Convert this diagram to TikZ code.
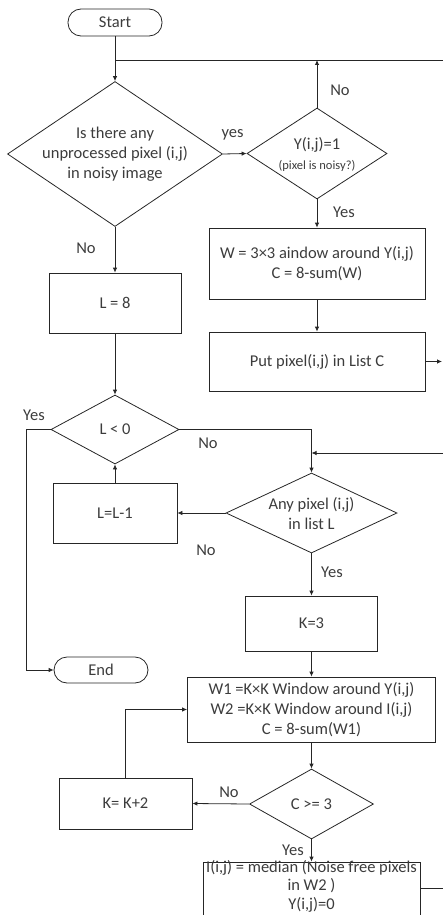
\documentclass[tikz,border=0pt]{standalone}
\usepackage{fontspec}
\setmainfont{Carlito}
\usetikzlibrary{shapes.geometric,arrows.meta}
\definecolor{ln}{HTML}{262626}
\definecolor{tx}{HTML}{3C3C3C}
\begin{document}
\begin{tikzpicture}[x=1pt,y=-1pt,
  every node/.style={font=\fontsize{16.5}{20}\selectfont, text=tx},
  box/.style={draw=ln, line width=0.8pt, rectangle, align=center, inner sep=0pt},
  term/.style={draw=ln, line width=0.8pt, rectangle, rounded corners=13pt, inner sep=0pt},
  dec/.style={draw=ln, line width=0.8pt, diamond, inner sep=0pt},
  txt/.style={align=center, inner sep=0pt},
  small/.style={font=\fontsize{12.5}{14}\selectfont},
  lbl/.style={inner sep=0pt},
  conn/.style={draw=ln, line width=0.8pt},
  arr/.style={conn, -{Latex[length=5pt,width=4.5pt]}},
]
\useasboundingbox (0,0) rectangle (443,915);
\clip (0,0) rectangle (443,915);

% nodes
\node[term, minimum width=94pt, minimum height=27pt] (start) at (115,22.5) {Start};
\node[dec, minimum width=215pt, minimum height=145pt] (d1) at (115,154) {};
\node[txt] (d1t) at (d1) {Is there any\\unprocessed pixel (i,j)\\in noisy image};
\node[dec, minimum width=140pt, minimum height=91pt] (d2) at (317,153.5) {};
\node[txt] (d2a) at (317,145) {Y(i,j)=1};
\node[txt, small] (d2b) at (317,166) {(pixel is noisy?)};
\node[box, minimum width=216pt, minimum height=71pt] (wb) at (317,263.5) {W = 3×3 aindow around Y(i,j)\\C = 8-sum(W)};
\node[box, minimum width=216pt, minimum height=59pt] (put) at (317,361.5) {Put pixel(i,j) in List C};
\node[box, minimum width=132pt, minimum height=60pt] (l8) at (115,303) {L = 8};
\node[dec, minimum width=128pt, minimum height=69pt] (d3) at (115,429.5) {};
\node[txt] (d3t) at (d3) {L < 0};
\node[box, minimum width=124pt, minimum height=60pt] (ll1) at (115,513) {L=L-1};
\node[dec, minimum width=171pt, minimum height=80pt] (d4) at (311.5,513) {};
\node[txt] (d4t) at (311.5,513.5) {Any pixel (i,j)\\in list L};
\node[box, minimum width=132pt, minimum height=55pt] (k3) at (311.5,623.5) {K=3};
\node[term, minimum width=94pt, minimum height=26pt] (end) at (101,670) {End};
\node[box, minimum width=248pt, minimum height=65pt] (w1) at (311.5,709.5) {W1 =K×K Window around Y(i,j)\\W2 =K×K Window around I(i,j)\\C = 8-sum(W1)};
\node[dec, minimum width=124pt, minimum height=70pt] (d5) at (311.5,804) {};
\node[txt] (d5t) at (d5) {C >= 3};
\node[box, minimum width=133pt, minimum height=51pt] (k2) at (125.5,803.5) {K= K+2};
\node[box, minimum width=217pt, minimum height=62pt] (ib) at (311.5,893) {};
\node[txt, font=\fontsize{16.5}{18.5}\selectfont] (ibt) at (311.5,886) {I(i,j) = median (Noise free pixels\\in W2 )\\Y(i,j)=0};

% coordinates
\coordinate (m1) at (115,60);
\coordinate (r1) at (443,60);
\coordinate (r2) at (443,453);
\coordinate (r3) at (443,888);
\coordinate (rc) at (442,362);
\coordinate (lx) at (26,429.5);

% connectors
\draw[arr] (start) -- (d1.north);
\draw[conn] (m1) -- (r1);
\draw[arr] (d1.east) -- (d2.west);
\draw[arr] (d2.north) -- (d2.north |- r1);
\draw[arr] (d2.south) -- (wb.north);
\draw[arr] (wb.south) -- (put.north);
\draw[arr] (put.east) -- (put.east -| rc);
\draw[arr] (d1.south) -- (l8.north);
\draw[arr] (l8.south) -- (d3.north);
\draw[arr] (d3.west) -- (lx) |- (end.west);
\draw[arr] (d3.east) -| (d4.north);
\draw[arr] (r2) -- (d4.north |- r2);
\draw[arr] (d4.west) -- (ll1.east);
\draw[arr] (ll1.north) -- (d3.south);
\draw[arr] (d4.south) -- (k3.north);
\draw[arr] (k3.south) -- (w1.north);
\draw[arr] (w1.south) -- (d5.north);
\draw[arr] (d5.west) -- (k2.east);
\draw[arr] (k2.north) |- (w1.west);
\draw[arr] (d5.south) -- (ib.north);
\draw[conn] (ib.east |- r3) -- (r3);

% labels
\node[lbl] (lyes1) at (232.5,135) {yes};
\node[lbl] (lno1) at (340,90) {No};
\node[lbl] (lyes2) at (344,212) {Yes};
\node[lbl] (lno2) at (86,248) {No};
\node[lbl] (lyes3) at (34,415) {Yes};
\node[lbl] (lno3) at (208,443) {No};
\node[lbl] (lno4) at (206,550) {No};
\node[lbl] (lyes4) at (332,572) {Yes};
\node[lbl] (lno5) at (229,792) {No};
\node[lbl] (lyes5) at (293,850) {Yes};
\end{tikzpicture}
\end{document}
